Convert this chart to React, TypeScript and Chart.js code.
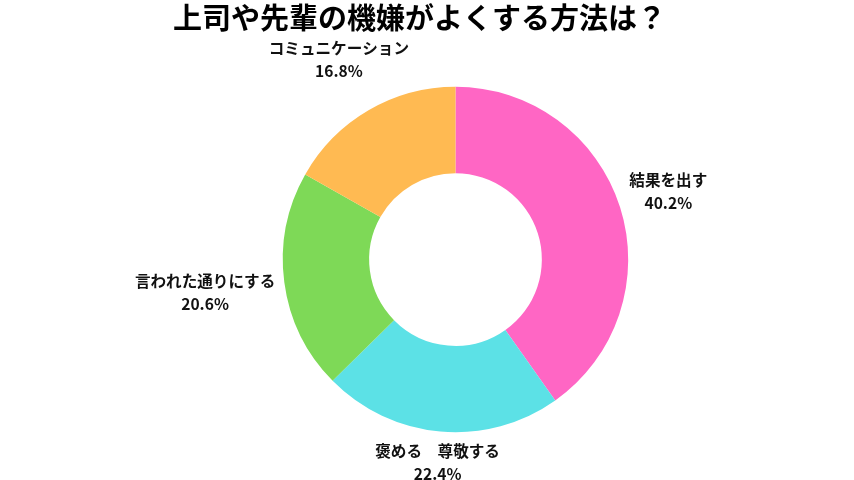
import React, { useEffect, useRef } from "react";
import { Chart, registerables } from "chart.js";

Chart.register(...registerables);

const title = "上司や先輩の機嫌がよくする方法は？";
const categories = ["結果を出す", "褒める　尊敬する", "言われた通りにする", "コミュニケーション"];
const values = [40.2, 22.4, 20.6, 16.8];
const colors = ["#FF66C4", "#5CE1E6", "#7ED957", "#FFBA52"];

const FONT = '"Noto Sans CJK JP", "Noto Sans", sans-serif';

const labelPlugin = {
  id: "outerLabels",
  afterDatasetsDraw(chart: any) {
    const ctx = chart.ctx as CanvasRenderingContext2D;
    const meta = chart.getDatasetMeta(0);
    ctx.save();
    ctx.fillStyle = "#111111";
    ctx.font = `bold 15.6px ${FONT}`;
    ctx.textAlign = "center";
    ctx.textBaseline = "middle";
    meta.data.forEach((arc: any, i: number) => {
      const p = arc.getProps(["x", "y", "startAngle", "endAngle", "outerRadius"], true);
      const mid = (p.startAngle + p.endAngle) / 2;
      const c = Math.cos(mid);
      const s = Math.sin(mid);
      const l1 = categories[i];
      const l2 = values[i].toFixed(1) + "%";
      const w = Math.max(ctx.measureText(l1).width, ctx.measureText(l2).width);
      const halfW = w / 2;
      const halfH = 18;
      const gap = 8;
      const d = p.outerRadius + gap + Math.abs(c) * halfW + Math.abs(s) * halfH;
      const cx = p.x + c * d;
      const cy = p.y + s * d;
      ctx.fillText(l1, cx, cy - 11.5);
      ctx.fillText(l2, cx, cy + 11.5);
    });
    // title
    ctx.font = `bold 29px ${FONT}`;
    ctx.fillStyle = "#000000";
    ctx.textBaseline = "middle";
    ctx.fillText(title, 419.5, 17.5);
    ctx.restore();
  },
};

export default function App() {
  const ref = useRef<HTMLCanvasElement | null>(null);
  useEffect(() => {
    if (!ref.current) return;
    const chart = new Chart(ref.current, {
      type: "doughnut",
      data: {
        labels: categories,
        datasets: [
          {
            data: values,
            backgroundColor: colors,
            borderWidth: 0,
            hoverOffset: 0,
          },
        ],
      },
      options: {
        responsive: false,
        animation: false,
        cutout: "50%",
        layout: { padding: { top: 86.8, bottom: 47.8, left: 57, right: 0 } },
        plugins: {
          legend: { display: false },
          tooltip: { enabled: false },
          title: { display: false },
        },
      },
      plugins: [labelPlugin],
    });
    return () => chart.destroy();
  }, []);
  return (
    <div style={{ position: "fixed", left: 0, top: 0, width: 854, height: 480, background: "#ffffff" }}>
      <canvas ref={ref} width={854} height={480} style={{ width: 854, height: 480 }} />
    </div>
  );
}
